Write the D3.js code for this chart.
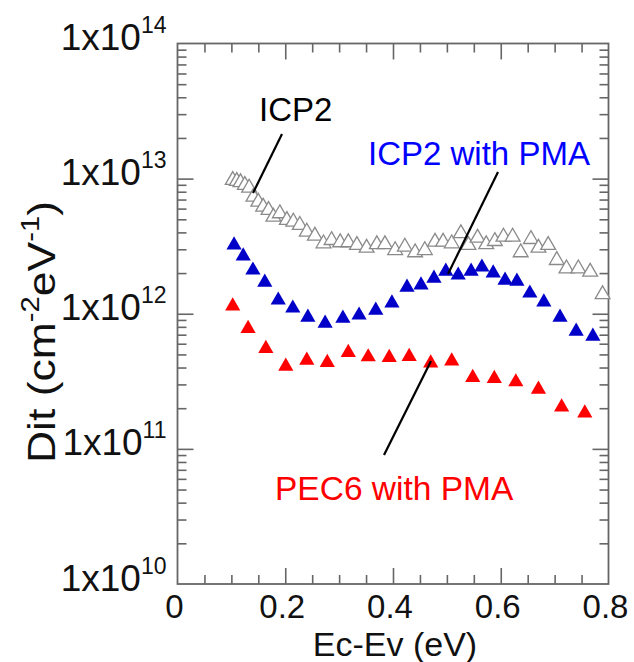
<!DOCTYPE html>
<html><head><meta charset="utf-8">
<script src="https://cdn.jsdelivr.net/npm/d3@7"></script>
<style>
body{margin:0;background:#fff}
text{font-family:"Liberation Sans",Arial,Helvetica,sans-serif}
</style></head>
<body><svg id="c" width="634" height="662"></svg>
<script>
// ---- data ----
const icp2X = [0.1025,0.110,0.117,0.125,0.133,0.141,0.150,0.159,0.169,0.178,0.190,0.203,0.215,0.227,0.240,0.255,0.271,0.286,0.302,0.317,0.333,0.351,0.370,0.385,0.404,0.422,0.441,0.459,0.478,0.493,0.509,0.526,0.540,0.557,0.573,0.589,0.605,0.622,0.637,0.656,0.670,0.688,0.704,0.722,0.744,0.766,0.789];
const icp2Y = [9.75e12,9.58e12,9.37e12,8.95e12,8.55e12,7.33e12,6.73e12,6.18e12,5.84e12,5.21e12,5.52e12,4.93e12,4.79e12,4.53e12,4.04e12,3.77e12,3.31e12,3.50e12,3.37e12,3.37e12,3.22e12,3.07e12,3.26e12,3.26e12,2.95e12,3.13e12,2.84e12,2.95e12,3.40e12,3.40e12,3.31e12,3.93e12,3.22e12,3.64e12,3.26e12,3.44e12,3.71e12,3.71e12,2.84e12,3.56e12,3.07e12,3.22e12,2.49e12,2.16e12,2.16e12,2.04e12,1.39e12];

const icp2PmaX = [0.105,0.122,0.140,0.162,0.187,0.214,0.242,0.274,0.307,0.337,0.368,0.398,0.426,0.452,0.476,0.498,0.521,0.545,0.565,0.586,0.608,0.630,0.654,0.680,0.710,0.740,0.771];
const icp2PmaY = [3.22e12,2.67e12,2.10e12,1.71e12,1.26e12,1.10e12,9.42e11,8.5e11,9.26e11,9.75e11,1.06e12,1.20e12,1.57e12,1.63e12,1.83e12,2.06e12,1.93e12,2.06e12,2.21e12,2.0e12,1.77e12,1.74e12,1.42e12,1.22e12,9.42e11,7.41e11,6.81e11];

const pec6PmaX = [0.1025,0.131,0.164,0.201,0.240,0.278,0.317,0.354,0.393,0.430,0.470,0.509,0.548,0.588,0.628,0.670,0.713,0.756];
const pec6PmaY = [1.14e12,7.77e11,5.52e11,4.08e11,4.52e11,4.35e11,5.16e11,4.79e11,4.74e11,4.82e11,4.32e11,4.47e11,3.37e11,3.31e11,3.13e11,2.76e11,2.04e11,1.84e11];

const xTickValues = [0,0.2,0.4,0.6,0.8];
const xTickLabels = ["0","0.2","0.4","0.6","0.8"];
const yTickValues = [1e10,1e11,1e12,1e13,1e14];
const yTickExponents = ["10","11","12","13","14"];

// ---- layout ----
const svg = d3.select("#c");
const L = 177.5, R = 608.5, T = 43.5, B = 584;
const x = d3.scaleLinear().domain([0,0.8]).range([L,R]);
const y = d3.scaleLog().domain([1e10,1e14]).range([B,T]);
const axisColor = "#666";

const xMinor = d3.range(0,0.8001,0.05).filter(v => !xTickValues.some(t => Math.abs(t-v)<1e-6));
const yMinor = [];
for (let e=10;e<14;e++) for (let k=2;k<=9;k++) yMinor.push(k*Math.pow(10,e));

function styleAxis(g){
  g.select(".domain").remove();
  g.selectAll(".tick line").attr("stroke",axisColor).attr("stroke-width",1.6);
}
function addAxis(axisFn, pos, vals, size){
  svg.append("g").attr("transform",pos)
    .call(axisFn.tickValues(vals).tickSize(size).tickFormat(""))
    .call(styleAxis);
}
addAxis(d3.axisBottom(x), `translate(0,${B})`, xMinor, -9);
addAxis(d3.axisBottom(x), `translate(0,${B})`, xTickValues.slice(1,-1), -16);
addAxis(d3.axisTop(x), `translate(0,${T})`, xMinor, -9);
addAxis(d3.axisTop(x), `translate(0,${T})`, xTickValues.slice(1,-1), -16);
addAxis(d3.axisLeft(y), `translate(${L},0)`, yMinor, -9);
addAxis(d3.axisLeft(y), `translate(${L},0)`, yTickValues.slice(1,-1), -16);
addAxis(d3.axisRight(y), `translate(${R},0)`, yMinor, -9);
addAxis(d3.axisRight(y), `translate(${R},0)`, yTickValues.slice(1,-1), -16);

svg.append("rect").attr("x",L).attr("y",T).attr("width",R-L).attr("height",B-T)
  .attr("fill","none").attr("stroke",axisColor).attr("stroke-width",1.8);

// x tick labels
svg.append("g").selectAll("text").data(xTickValues).join("text")
  .attr("x",d=>x(d)-3).attr("y",B+33.5).attr("text-anchor","middle")
  .attr("font-size",33).attr("fill","#111")
  .text((d,i)=>xTickLabels[i]);
// y tick labels
const yl = svg.append("g").selectAll("text").data(yTickValues).join("text")
  .attr("x",L-11).attr("y",d=>y(d)+6.5).attr("text-anchor","end")
  .attr("font-size",37).attr("fill","#111");
yl.append("tspan").text("1x10");
yl.append("tspan").attr("dy",-17).attr("font-size",23).text((d,i)=>yTickExponents[i]);

// axis titles
svg.append("text").attr("x",395).attr("y",655.5).attr("text-anchor","middle")
  .attr("font-size",34).attr("fill","#111").text("Ec-Ev (eV)");
const yt = svg.append("text").attr("transform",`translate(55,332) rotate(-90)`)
  .attr("text-anchor","middle").attr("font-size",38).attr("fill","#111")
  .attr("textLength",262).attr("lengthAdjust","spacingAndGlyphs");
yt.append("tspan").text("Dit (cm");
yt.append("tspan").attr("dy",-16).attr("font-size",25).text("-2");
yt.append("tspan").attr("dy",16).text("eV");
yt.append("tspan").attr("dy",-16).attr("font-size",25).text("-1");
yt.append("tspan").attr("dy",16).text(")");

// ---- markers ----
const tri = d3.symbol().type(d3.symbolTriangle);
svg.append("g").selectAll("path").data(icp2X.map((v,i)=>[v,icp2Y[i]])).join("path")
  .attr("transform",d=>`translate(${x(d[0])},${y(d[1])})`)
  .attr("d",tri.size(95)()).attr("fill","#fff").attr("stroke","#8a8a8a").attr("stroke-width",1.3);
svg.append("g").selectAll("path").data(icp2PmaX.map((v,i)=>[v,icp2PmaY[i]])).join("path")
  .attr("transform",d=>`translate(${x(d[0])},${y(d[1])})`)
  .attr("d",tri.size(100)()).attr("fill","#0000c8");
svg.append("g").selectAll("path").data(pec6PmaX.map((v,i)=>[v,pec6PmaY[i]])).join("path")
  .attr("transform",d=>`translate(${x(d[0])},${y(d[1])})`)
  .attr("d",tri.size(100)()).attr("fill","#ff0000");

// ---- annotations ----
const lines = [[282,134,253,193],[498,172,448,274],[431,361,384,455]];
svg.append("g").selectAll("line").data(lines).join("line")
  .attr("x1",d=>d[0]).attr("y1",d=>d[1]).attr("x2",d=>d[2]).attr("y2",d=>d[3])
  .attr("stroke","#000").attr("stroke-width",2.2);
svg.append("text").attr("x",259).attr("y",120.5).attr("font-size",33).attr("fill","#000").text("ICP2");
svg.append("text").attr("x",368).attr("y",165).attr("font-size",33).attr("fill","#0000ff").text("ICP2 with PMA");
svg.append("text").attr("x",275).attr("y",500).attr("font-size",33.5).attr("fill","#ff0000").text("PEC6 with PMA");
</script></body></html>
